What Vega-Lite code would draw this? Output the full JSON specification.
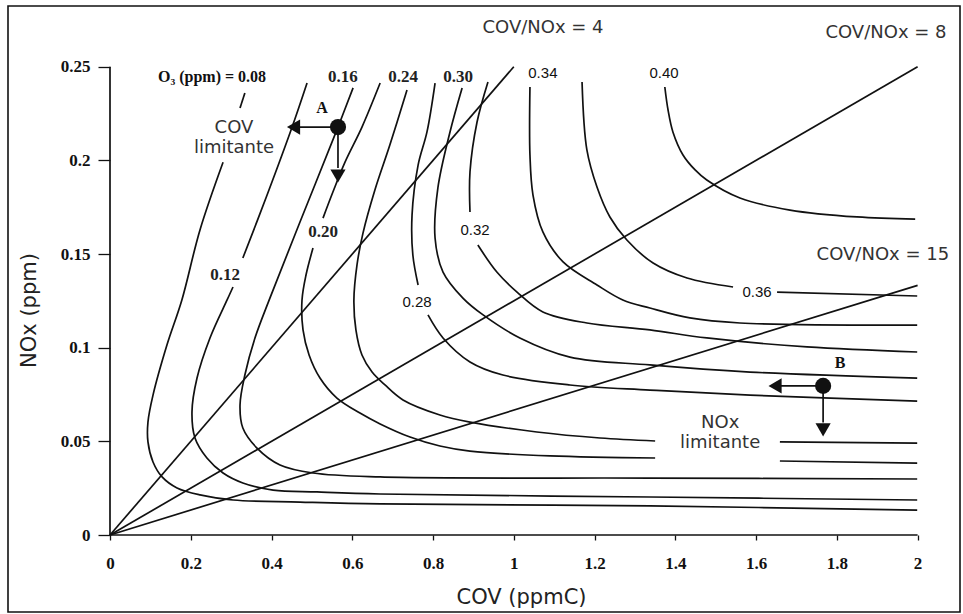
{
  "$schema": "https://vega.github.io/schema/vega-lite/v6.json",
  "width": 952,
  "height": 606,
  "autosize": {"type": "none"},
  "padding": {"left": 8, "top": 6, "right": 3, "bottom": 2},
  "background": "white",
  "config": {
    "view": {"stroke": "#111", "strokeWidth": 1.6},
    "axis": {"grid": false, "domain": false, "tickColor": "#111", "tickWidth": 1.3, "labelColor": "#111", "labelFont": "Liberation Serif", "labelFontSize": 17, "labelFontWeight": "bold", "titleFont": "DejaVu Sans", "titleFontSize": 21, "titleFontWeight": "normal", "titleColor": "#222"}
  },
  "datasets": {
    "curves": [
      {"k": "0.08a", "i": 0, "x": 0.334, "y": 0.236},
      {"k": "0.08a", "i": 1, "x": 0.322, "y": 0.228},
      {"k": "0.08b", "i": 0, "x": 0.28, "y": 0.199},
      {"k": "0.08b", "i": 1, "x": 0.223, "y": 0.163},
      {"k": "0.08b", "i": 2, "x": 0.178, "y": 0.1255},
      {"k": "0.08b", "i": 3, "x": 0.141, "y": 0.1014},
      {"k": "0.08b", "i": 4, "x": 0.1065, "y": 0.0747},
      {"k": "0.08b", "i": 5, "x": 0.094, "y": 0.0603},
      {"k": "0.08b", "i": 6, "x": 0.094, "y": 0.0497},
      {"k": "0.08b", "i": 7, "x": 0.1065, "y": 0.039},
      {"k": "0.08b", "i": 8, "x": 0.129, "y": 0.031},
      {"k": "0.08b", "i": 9, "x": 0.166, "y": 0.0251},
      {"k": "0.08b", "i": 10, "x": 0.223, "y": 0.0214},
      {"k": "0.08b", "i": 11, "x": 0.305, "y": 0.0187},
      {"k": "0.08b", "i": 12, "x": 0.4705, "y": 0.0176},
      {"k": "0.08b", "i": 13, "x": 0.669, "y": 0.0166},
      {"k": "0.08b", "i": 14, "x": 1.337, "y": 0.0155},
      {"k": "0.08b", "i": 15, "x": 1.999, "y": 0.0133},

      {"k": "0.12a", "i": 0, "x": 0.488, "y": 0.2413},
      {"k": "0.12a", "i": 1, "x": 0.451, "y": 0.2178},
      {"k": "0.12a", "i": 2, "x": 0.389, "y": 0.1815},
      {"k": "0.12a", "i": 3, "x": 0.329, "y": 0.1479},
      {"k": "0.12b", "i": 0, "x": 0.3046, "y": 0.1324},
      {"k": "0.12b", "i": 1, "x": 0.29, "y": 0.1255},
      {"k": "0.12b", "i": 2, "x": 0.2476, "y": 0.1052},
      {"k": "0.12b", "i": 3, "x": 0.2155, "y": 0.0838},
      {"k": "0.12b", "i": 4, "x": 0.203, "y": 0.0657},
      {"k": "0.12b", "i": 5, "x": 0.2105, "y": 0.0518},
      {"k": "0.12b", "i": 6, "x": 0.24, "y": 0.0411},
      {"k": "0.12b", "i": 7, "x": 0.28, "y": 0.0331},
      {"k": "0.12b", "i": 8, "x": 0.329, "y": 0.0278},
      {"k": "0.12b", "i": 9, "x": 0.404, "y": 0.024},
      {"k": "0.12b", "i": 10, "x": 0.5126, "y": 0.023},
      {"k": "0.12b", "i": 11, "x": 0.669, "y": 0.0219},
      {"k": "0.12b", "i": 12, "x": 1.337, "y": 0.0203},
      {"k": "0.12b", "i": 13, "x": 1.999, "y": 0.0187},

      {"k": "0.16", "i": 0, "x": 0.602, "y": 0.2387},
      {"k": "0.16", "i": 1, "x": 0.5646, "y": 0.2178},
      {"k": "0.16", "i": 2, "x": 0.4705, "y": 0.1671},
      {"k": "0.16", "i": 3, "x": 0.396, "y": 0.1265},
      {"k": "0.16", "i": 4, "x": 0.359, "y": 0.1052},
      {"k": "0.16", "i": 5, "x": 0.334, "y": 0.0854},
      {"k": "0.16", "i": 6, "x": 0.322, "y": 0.0694},
      {"k": "0.16", "i": 7, "x": 0.329, "y": 0.0571},
      {"k": "0.16", "i": 8, "x": 0.364, "y": 0.0464},
      {"k": "0.16", "i": 9, "x": 0.421, "y": 0.0374},
      {"k": "0.16", "i": 10, "x": 0.5027, "y": 0.0331},
      {"k": "0.16", "i": 11, "x": 0.669, "y": 0.031},
      {"k": "0.16", "i": 12, "x": 1.337, "y": 0.0304},
      {"k": "0.16", "i": 13, "x": 1.999, "y": 0.0299},

      {"k": "0.20a", "i": 0, "x": 0.669, "y": 0.2413},
      {"k": "0.20a", "i": 1, "x": 0.624, "y": 0.2178},
      {"k": "0.20a", "i": 2, "x": 0.582, "y": 0.1991},
      {"k": "0.20a", "i": 3, "x": 0.552, "y": 0.1831},
      {"k": "0.20a", "i": 4, "x": 0.5275, "y": 0.1692},
      {"k": "0.20b", "i": 0, "x": 0.5027, "y": 0.1532},
      {"k": "0.20b", "i": 1, "x": 0.4854, "y": 0.1388},
      {"k": "0.20b", "i": 2, "x": 0.4755, "y": 0.1255},
      {"k": "0.20b", "i": 3, "x": 0.478, "y": 0.1095},
      {"k": "0.20b", "i": 4, "x": 0.493, "y": 0.0961},
      {"k": "0.20b", "i": 5, "x": 0.52, "y": 0.0838},
      {"k": "0.20b", "i": 6, "x": 0.562, "y": 0.0731},
      {"k": "0.20b", "i": 7, "x": 0.619, "y": 0.0651},
      {"k": "0.20b", "i": 8, "x": 0.669, "y": 0.0593},
      {"k": "0.20b", "i": 9, "x": 0.743, "y": 0.0523},
      {"k": "0.20b", "i": 10, "x": 0.817, "y": 0.0475},
      {"k": "0.20b", "i": 11, "x": 0.8915, "y": 0.0448},
      {"k": "0.20b", "i": 12, "x": 1.09, "y": 0.0422},
      {"k": "0.20b", "i": 13, "x": 1.35, "y": 0.0411},
      {"k": "0.20c", "i": 0, "x": 1.659, "y": 0.0395},
      {"k": "0.20c", "i": 1, "x": 1.999, "y": 0.0384},

      {"k": "0.24a", "i": 0, "x": 0.7355, "y": 0.2376},
      {"k": "0.24a", "i": 1, "x": 0.693, "y": 0.2082},
      {"k": "0.24a", "i": 2, "x": 0.656, "y": 0.1842},
      {"k": "0.24a", "i": 3, "x": 0.6265, "y": 0.1612},
      {"k": "0.24a", "i": 4, "x": 0.6117, "y": 0.1442},
      {"k": "0.24a", "i": 5, "x": 0.604, "y": 0.1255},
      {"k": "0.24a", "i": 6, "x": 0.609, "y": 0.1095},
      {"k": "0.24a", "i": 7, "x": 0.624, "y": 0.0961},
      {"k": "0.24a", "i": 8, "x": 0.649, "y": 0.087},
      {"k": "0.24a", "i": 9, "x": 0.681, "y": 0.0801},
      {"k": "0.24a", "i": 10, "x": 0.7256, "y": 0.0721},
      {"k": "0.24a", "i": 11, "x": 0.817, "y": 0.0641},
      {"k": "0.24a", "i": 12, "x": 0.8915, "y": 0.0603},
      {"k": "0.24a", "i": 13, "x": 1.057, "y": 0.055},
      {"k": "0.24a", "i": 14, "x": 1.2135, "y": 0.0518},
      {"k": "0.24a", "i": 15, "x": 1.35, "y": 0.0502},
      {"k": "0.24b", "i": 0, "x": 1.659, "y": 0.0497},
      {"k": "0.24b", "i": 1, "x": 1.999, "y": 0.0491},

      {"k": "0.28a", "i": 0, "x": 0.805, "y": 0.2413},
      {"k": "0.28a", "i": 1, "x": 0.785, "y": 0.2152},
      {"k": "0.28a", "i": 2, "x": 0.763, "y": 0.1975},
      {"k": "0.28a", "i": 3, "x": 0.748, "y": 0.1708},
      {"k": "0.28a", "i": 4, "x": 0.75, "y": 0.1495},
      {"k": "0.28a", "i": 5, "x": 0.763, "y": 0.1335},
      {"k": "0.28b", "i": 0, "x": 0.7875, "y": 0.1175},
      {"k": "0.28b", "i": 1, "x": 0.8247, "y": 0.1052},
      {"k": "0.28b", "i": 2, "x": 0.8915, "y": 0.0924},
      {"k": "0.28b", "i": 3, "x": 0.973, "y": 0.0854},
      {"k": "0.28b", "i": 4, "x": 1.139, "y": 0.0801},
      {"k": "0.28b", "i": 5, "x": 1.337, "y": 0.0774},
      {"k": "0.28b", "i": 6, "x": 1.585, "y": 0.0747},
      {"k": "0.28b", "i": 7, "x": 1.999, "y": 0.0715},

      {"k": "0.30", "i": 0, "x": 0.872, "y": 0.2387},
      {"k": "0.30", "i": 1, "x": 0.842, "y": 0.2152},
      {"k": "0.30", "i": 2, "x": 0.812, "y": 0.1853},
      {"k": "0.30", "i": 3, "x": 0.805, "y": 0.1586},
      {"k": "0.30", "i": 4, "x": 0.8247, "y": 0.1404},
      {"k": "0.30", "i": 5, "x": 0.874, "y": 0.1265},
      {"k": "0.30", "i": 6, "x": 0.924, "y": 0.1175},
      {"k": "0.30", "i": 7, "x": 1.015, "y": 0.1052},
      {"k": "0.30", "i": 8, "x": 1.139, "y": 0.095},
      {"k": "0.30", "i": 9, "x": 1.337, "y": 0.0908},
      {"k": "0.30", "i": 10, "x": 1.585, "y": 0.087},
      {"k": "0.30", "i": 11, "x": 1.999, "y": 0.0838},

      {"k": "0.32a", "i": 0, "x": 0.936, "y": 0.2419},
      {"k": "0.32a", "i": 1, "x": 0.909, "y": 0.2205},
      {"k": "0.32a", "i": 2, "x": 0.8915, "y": 0.1938},
      {"k": "0.32a", "i": 3, "x": 0.8915, "y": 0.1725},
      {"k": "0.32b", "i": 0, "x": 0.911, "y": 0.1548},
      {"k": "0.32b", "i": 1, "x": 0.958, "y": 0.1404},
      {"k": "0.32b", "i": 2, "x": 1.008, "y": 0.1297},
      {"k": "0.32b", "i": 3, "x": 1.072, "y": 0.1191},
      {"k": "0.32b", "i": 4, "x": 1.181, "y": 0.1132},
      {"k": "0.32b", "i": 5, "x": 1.337, "y": 0.1095},
      {"k": "0.32b", "i": 6, "x": 1.478, "y": 0.1052},
      {"k": "0.32b", "i": 7, "x": 1.726, "y": 0.1004},
      {"k": "0.32b", "i": 8, "x": 1.999, "y": 0.0977},

      {"k": "0.34", "i": 0, "x": 1.04, "y": 0.2392},
      {"k": "0.34", "i": 1, "x": 1.04, "y": 0.2029},
      {"k": "0.34", "i": 2, "x": 1.0475, "y": 0.1815},
      {"k": "0.34", "i": 3, "x": 1.072, "y": 0.1618},
      {"k": "0.34", "i": 4, "x": 1.122, "y": 0.1458},
      {"k": "0.34", "i": 5, "x": 1.206, "y": 0.1335},
      {"k": "0.34", "i": 6, "x": 1.27, "y": 0.1255},
      {"k": "0.34", "i": 7, "x": 1.337, "y": 0.1212},
      {"k": "0.34", "i": 8, "x": 1.436, "y": 0.1159},
      {"k": "0.34", "i": 9, "x": 1.56, "y": 0.1132},
      {"k": "0.34", "i": 10, "x": 1.999, "y": 0.1121},

      {"k": "0.36a", "i": 0, "x": 1.169, "y": 0.2419},
      {"k": "0.36a", "i": 1, "x": 1.181, "y": 0.2056},
      {"k": "0.36a", "i": 2, "x": 1.206, "y": 0.1858},
      {"k": "0.36a", "i": 3, "x": 1.238, "y": 0.1698},
      {"k": "0.36a", "i": 4, "x": 1.28, "y": 0.1575},
      {"k": "0.36a", "i": 5, "x": 1.345, "y": 0.1452},
      {"k": "0.36a", "i": 6, "x": 1.429, "y": 0.1372},
      {"k": "0.36a", "i": 7, "x": 1.543, "y": 0.1324},
      {"k": "0.36b", "i": 0, "x": 1.652, "y": 0.1297},
      {"k": "0.36b", "i": 1, "x": 1.999, "y": 0.1276},

      {"k": "0.40", "i": 0, "x": 1.374, "y": 0.2392},
      {"k": "0.40", "i": 1, "x": 1.382, "y": 0.2269},
      {"k": "0.40", "i": 2, "x": 1.394, "y": 0.2152},
      {"k": "0.40", "i": 3, "x": 1.419, "y": 0.2029},
      {"k": "0.40", "i": 4, "x": 1.449, "y": 0.1949},
      {"k": "0.40", "i": 5, "x": 1.478, "y": 0.1895},
      {"k": "0.40", "i": 6, "x": 1.56, "y": 0.1799},
      {"k": "0.40", "i": 7, "x": 1.684, "y": 0.1735},
      {"k": "0.40", "i": 8, "x": 1.85, "y": 0.1698},
      {"k": "0.40", "i": 9, "x": 1.994, "y": 0.1687},

      {"k": "COV/NOx=4", "i": 0, "x": 0, "y": 0},
      {"k": "COV/NOx=4", "i": 1, "x": 1.0, "y": 0.25},
      {"k": "COV/NOx=8", "i": 0, "x": 0, "y": 0},
      {"k": "COV/NOx=8", "i": 1, "x": 2.0, "y": 0.25},
      {"k": "COV/NOx=15", "i": 0, "x": 0, "y": 0},
      {"k": "COV/NOx=15", "i": 1, "x": 2.0, "y": 0.1333},

      {"k": "x-axis", "i": 0, "x": 0, "y": 0},
      {"k": "x-axis", "i": 1, "x": 2, "y": 0},
      {"k": "y-axis", "i": 0, "x": 0, "y": 0},
      {"k": "y-axis", "i": 1, "x": 0, "y": 0.25}
    ],
    "points": [
      {"p": "A", "x": 0.5646, "y": 0.2178},
      {"p": "B", "x": 1.766, "y": 0.0796}
    ],
    "shafts": [
      {"p": "A", "x": 0.5646, "y": 0.2178, "x2": 0.46, "y2": 0.2178},
      {"p": "A", "x": 0.5646, "y": 0.2178, "x2": 0.5646, "y2": 0.196},
      {"p": "B", "x": 1.766, "y": 0.0796, "x2": 1.655, "y2": 0.0796},
      {"p": "B", "x": 1.766, "y": 0.0796, "x2": 1.766, "y2": 0.06}
    ],
    "heads": [
      {"p": "A", "dir": "left", "x": 0.4545, "y": 0.2178},
      {"p": "A", "dir": "down", "x": 0.5646, "y": 0.1917},
      {"p": "B", "dir": "left", "x": 1.647, "y": 0.0796},
      {"p": "B", "dir": "down", "x": 1.766, "y": 0.0561}
    ],
    "labels": [
      {"t": "O₃ (ppm) = 0.08", "g": "bold", "x": 0.2526, "y": 0.2445},
      {"t": "A", "g": "bold", "x": 0.525, "y": 0.228},
      {"t": "B", "g": "bold", "x": 1.808, "y": 0.0918},
      {"t": "0.12", "g": "serif", "x": 0.285, "y": 0.1388},
      {"t": "0.16", "g": "serif", "x": 0.577, "y": 0.2445},
      {"t": "0.20", "g": "serif", "x": 0.5275, "y": 0.1618},
      {"t": "0.24", "g": "serif", "x": 0.726, "y": 0.2445},
      {"t": "0.30", "g": "serif", "x": 0.862, "y": 0.2445},
      {"t": "0.28", "g": "num", "x": 0.7603, "y": 0.1244},
      {"t": "0.32", "g": "num", "x": 0.9039, "y": 0.1628},
      {"t": "0.34", "g": "num", "x": 1.072, "y": 0.2467},
      {"t": "0.36", "g": "num", "x": 1.6023, "y": 0.1297},
      {"t": "0.40", "g": "num", "x": 1.372, "y": 0.2467},
      {"t": "COV/NOx = 4", "g": "sans", "x": 1.0723, "y": 0.2707},
      {"t": "COV/NOx = 8", "g": "sans", "x": 1.9217, "y": 0.268},
      {"t": "COV/NOx = 15", "g": "sans", "x": 1.914, "y": 0.1495},
      {"t": "COV\nlimitante", "g": "sans", "x": 0.307, "y": 0.2173},
      {"t": "NOx\nlimitante", "g": "sans", "x": 1.511, "y": 0.0598}
    ]
  },
  "encoding": {
    "x": {"field": "x", "type": "quantitative", "scale": {"domain": [-0.2526, 2.105], "nice": false, "zero": false}},
    "y": {"field": "y", "type": "quantitative", "scale": {"domain": [-0.04111, 0.28244], "nice": false, "zero": false}}
  },
  "layer": [
    {
      "data": {"name": "curves"},
      "mark": {"type": "line", "interpolate": "catmull-rom", "stroke": "#111", "strokeWidth": 1.7},
      "encoding": {
        "x": {"field": "x", "type": "quantitative", "axis": {"orient": "bottom", "offset": -77, "values": [0, 0.2, 0.4, 0.6, 0.8, 1, 1.2, 1.4, 1.6, 1.8, 2], "format": "~g", "tickSize": 5, "labelPadding": 15, "title": "COV (ppmC)", "titleX": 513, "titleY": 68, "titleBaseline": "alphabetic"}},
        "y": {"field": "y", "type": "quantitative", "axis": {"orient": "left", "offset": -102, "values": [0, 0.05, 0.1, 0.15, 0.2, 0.25], "format": "~g", "tickSize": 12, "labelPadding": 8, "title": "NOx (ppm)", "titleX": -75, "titleY": 304, "titleBaseline": "alphabetic", "titleAngle": -90}},
        "detail": {"field": "k"},
        "order": {"field": "i", "type": "quantitative"}
      }
    },
    {
      "data": {"name": "shafts"},
      "mark": {"type": "rule", "stroke": "#111", "strokeWidth": 1.7},
      "encoding": {
        "x2": {"field": "x2"},
        "y2": {"field": "y2"}
      }
    },
    {
      "data": {"name": "heads"},
      "mark": {"type": "point", "filled": true, "opacity": 1, "color": "#111", "size": 230},
      "encoding": {
        "shape": {"field": "dir", "type": "nominal", "scale": {"domain": ["left", "down"], "range": ["triangle-left", "triangle-down"]}, "legend": null}
      }
    },
    {
      "data": {"name": "points"},
      "mark": {"type": "circle", "color": "#111", "opacity": 1, "size": 260}
    },
    {
      "data": {"name": "labels"},
      "transform": [{"filter": "datum.g === 'bold'"}],
      "mark": {"type": "text", "font": "Liberation Serif", "fontWeight": "bold", "fontSize": 16, "color": "#111"},
      "encoding": {"text": {"field": "t"}}
    },
    {
      "data": {"name": "labels"},
      "transform": [{"filter": "datum.g === 'serif'"}],
      "mark": {"type": "text", "font": "Liberation Serif", "fontSize": 17, "fontWeight": "bold", "color": "#222"},
      "encoding": {"text": {"field": "t"}}
    },
    {
      "data": {"name": "labels"},
      "transform": [{"filter": "datum.g === 'num'"}],
      "mark": {"type": "text", "font": "Liberation Sans", "fontSize": 15, "color": "#111"},
      "encoding": {"text": {"field": "t"}}
    },
    {
      "data": {"name": "labels"},
      "transform": [{"filter": "datum.g === 'sans'"}],
      "mark": {"type": "text", "font": "DejaVu Sans", "fontSize": 18, "lineBreak": "\n", "lineHeight": 20, "color": "#333"},
      "encoding": {"text": {"field": "t"}}
    }
  ]
}
